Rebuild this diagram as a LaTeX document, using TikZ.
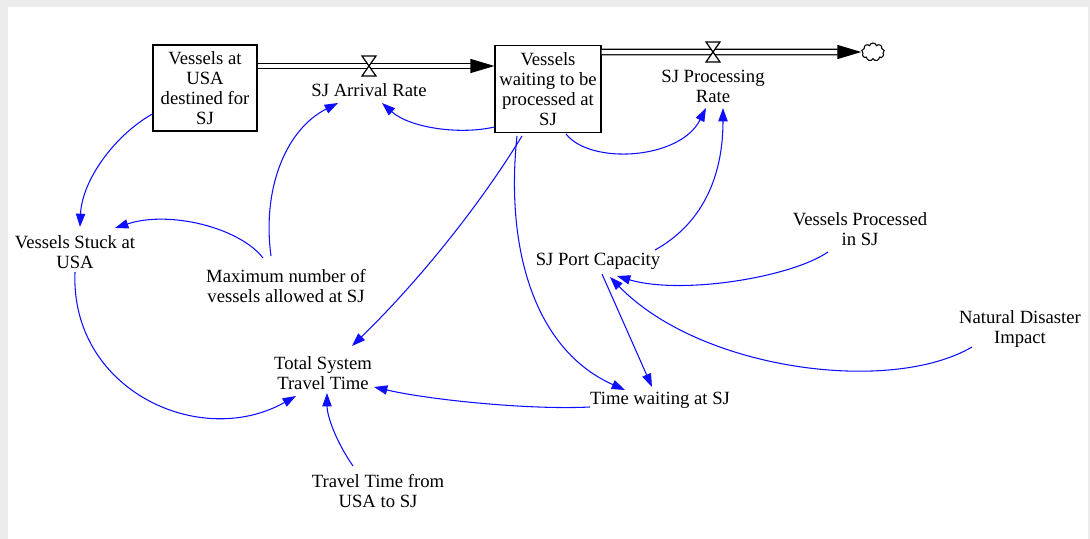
\documentclass[tikz,border=0pt]{standalone}
\usepackage{fontspec}
\setmainfont{Liberation Serif}
\newfontfamily\lblfont{Liberation Serif}
\usetikzlibrary{arrows.meta,calc,shapes.symbols}
\definecolor{linkblue}{RGB}{15,15,255}
\definecolor{framegray}{RGB}{236,236,236}
\begin{document}
\begin{tikzpicture}[x=0.75pt,y=-0.75pt,
  lbl/.style={align=center,inner sep=0pt,text=black,font=\lblfont\fontsize{14}{15}\selectfont},
  stock/.style={lbl,draw,line width=0.9pt,minimum width=78pt,minimum height=64.5pt},
  link/.style={draw=linkblue,line width=0.8pt,-{Triangle[length=10pt,width=7pt]}},
  pipe/.style={draw=black,double=white,double distance=3pt,line width=1pt,
    -{Triangle[length=18pt,width=10.5pt]}},
  valve/.style={draw=black,fill=white,line width=0.9pt,line join=miter},
]
% page frame
\fill[framegray] (0,0) rectangle (1090,539);
\fill[white] (8,7) rectangle (1088,539);
\useasboundingbox (0,0) rectangle (1090,539);

% stocks
\node[stock] (s1) at (205,88) {Vessels at\\USA\\destined for\\SJ};
\node[stock,minimum width=79.5pt,minimum height=65pt] (s2) at (548,89)
  {Vessels\\waiting to be\\processed at\\SJ};

% flows, valves and sink
\coordinate (v1) at (369,66);
\coordinate (v2) at (713,52);
\node[cloud,cloud puffs=9,draw,line width=0.8pt,fill=white,inner sep=0pt,
  minimum width=17pt,minimum height=13.5pt] (cl) at (873,52) {};
\draw[pipe] (s1.east |- v1) -- (s2.west |- v1);
\draw[pipe] (s2.east |- v2) -- (cl.west);
\draw[valve] ($(v1)+(-7,-10)$) -- ++(14,0) -- ++(-14,20) -- ++(14,0) -- cycle;
\draw[valve] ($(v2)+(-7,-10)$) -- ++(14,0) -- ++(-14,20) -- ++(14,0) -- cycle;

% rate and auxiliary labels
\node[lbl] (ar) at (369,90) {SJ Arrival Rate};
\node[lbl] (pr) at (713,86) {SJ Processing\\Rate};
\node[lbl] (vsu) at (75,252) {Vessels Stuck at\\USA};
\node[lbl] (mx) at (286,286) {Maximum number of\\vessels allowed at SJ};
\node[lbl] (pc) at (598,261) {SJ Port Capacity};
\node[lbl] (vp) at (860,229) {Vessels Processed\\in SJ};
\node[lbl] (nd) at (1020,329) {Natural Disaster\\Impact};
\node[lbl] (tst) at (323,373) {Total System\\Travel Time};
\node[lbl] (tw) at (660,400) {Time waiting at SJ};
\node[lbl] (tt) at (378,491) {Travel Time from\\USA to SJ};

% causal links
\draw[link] ($(s1.west)+(0,26)$) .. controls (115,135) and (82,180) .. ($(vsu)+(5,-25)$);
\draw[link] ($(mx)+(-23,-28)$) .. controls (240,228) and (170,210) .. ($(vsu)+(40,-24)$);
\draw[link] ($(mx)+(-15,-30)$) .. controls (262,190) and (285,130) .. ($(ar)+(-31,13)$);
\draw[link] ($(s2.west)+(0,38)$) .. controls (460,135) and (410,128) .. ($(ar)+(13,13)$);
\draw[link] ($(s2.south)+(18,1)$) .. controls (590,165) and (680,160) .. ($(pr)+(-7,22)$);
\draw[link] ($(pc)+(57,-11)$) .. controls (700,225) and (723,180) .. ($(pr)+(10,22)$);
\draw[link] ($(s2.south)+(-26,3)$) .. controls (480,205) and (418,282) .. ($(tst)+(29,-27)$);
\draw[link] ($(s2.south)+(-31,3)$) .. controls (505,250) and (535,350) .. ($(tw)+(-35,-10)$);
\draw[link] ($(pc)+(4,13)$) -- ($(tw)+(-8,-13)$);
\draw[link] ($(vp)+(-32,23)$) .. controls (790,278) and (680,295) .. ($(pc)+(19,15)$);
\draw[link] ($(nd)+(-48,18)$) .. controls (890,395) and (700,370) .. ($(pc)+(12,16)$);
\draw[link] ($(tw.west)+(0,7)$) .. controls (530,410) and (430,400) .. ($(tst)+(51,14)$);
\draw[link] ($(vsu)+(0,20)$) .. controls (70,390) and (200,450) .. ($(tst)+(-27,23)$);
\draw[link] ($(tt)+(-25,-25)$) .. controls (335,440) and (327,415) .. ($(tst)+(4,20)$);
\end{tikzpicture}
\end{document}
